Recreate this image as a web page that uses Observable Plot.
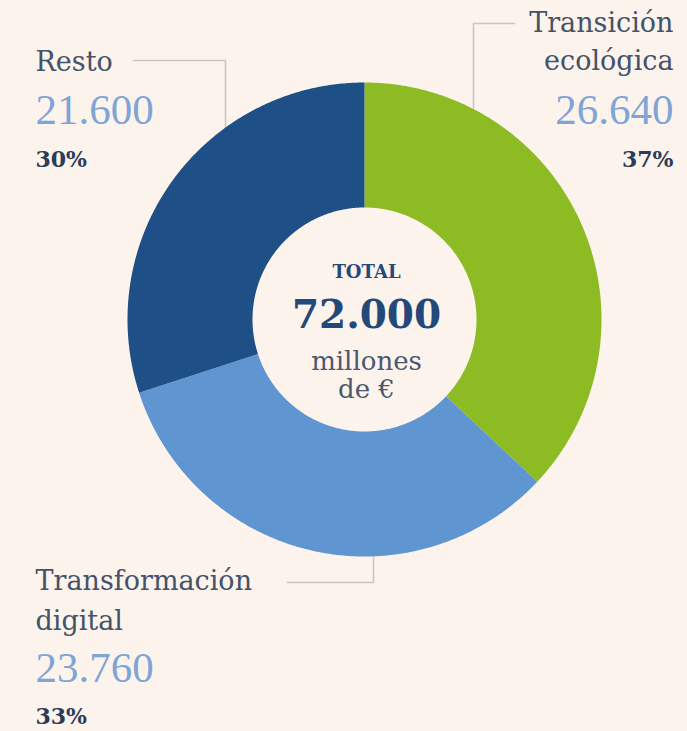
<!DOCTYPE html>
<html>
<head>
<meta charset="utf-8">
<script src="https://cdn.jsdelivr.net/npm/d3@7"></script>
<script src="https://cdn.jsdelivr.net/npm/@observablehq/plot@0.6"></script>
<style>
  html, body { margin: 0; padding: 0; background: #fcf3ec; }
  #chart { width: 687px; height: 731px; }
</style>
</head>
<body>
<div id="chart"></div>
<script>
// ---- data ----
const categories = ["Transición ecológica", "Transformación digital", "Resto"];
const nameLines = [["Transición", "ecológica"], ["Transformación", "digital"], ["Resto"]];
const values = [26640, 23760, 21600];
const percents = [37, 33, 30];
const total = 72000;
const totalLabel = "TOTAL";
const unitLines = ["millones", "de €"];
const colors = ["#8cbb23", "#5f95d1", "#1f4f87"];

// ---- layout (pixels) ----
const W = 687, H = 731;
const cx = 364, cy = 319, R = 237, r0 = 112;
const bg = "#fcf3ec";
const labelLayout = [
  {x: 673, anchor: "end",   nameY: [23, 61],  valueY: 110, pctY: 159, leader: [[514, 23], [473, 23], [473, 109]]},
  {x: 35,  anchor: "start", nameY: [581, 621], valueY: 668, pctY: 716, leader: [[287, 582], [373, 582], [373, 556]]},
  {x: 35,  anchor: "start", nameY: [62],       valueY: 110, pctY: 159, leader: [[133, 60], [225, 60], [225, 128]]}
];

const locale = d3.formatLocale({decimal: ",", thousands: ".", grouping: [3], currency: ["", " €"]});
const fmt = locale.format(",");

// ---- donut geometry from values ----
const pie = d3.pie().sort(null).value(d => d.value);
const slices = pie(categories.map((c, i) => ({category: c, value: values[i]})));
const ring = [];
const step = Math.PI / 360;
for (const s of slices) {
  const a0 = s.startAngle, a1 = s.endAngle;
  const n = Math.max(2, Math.ceil((a1 - a0) / step));
  for (let k = 0; k <= n; k++) {
    const a = a0 + (a1 - a0) * k / n;
    ring.push({category: s.data.category, x: cx + R * Math.sin(a), y: cy - R * Math.cos(a)});
  }
  for (let k = n; k >= 0; k--) {
    const a = a0 + (a1 - a0) * k / n;
    ring.push({category: s.data.category, x: cx + r0 * Math.sin(a), y: cy - r0 * Math.cos(a)});
  }
}

// ---- labels ----
const nameRows = [], valueRows = [], pctRows = [], leaderRows = [];
categories.forEach((c, i) => {
  const L = labelLayout[i];
  nameLines[i].forEach((t, j) => nameRows.push({x: L.x, y: L.nameY[j], text: t, anchor: L.anchor}));
  valueRows.push({x: L.x, y: L.valueY, text: fmt(values[i]), anchor: L.anchor});
  pctRows.push({x: L.x, y: L.pctY, text: percents[i] + "%", anchor: L.anchor});
  L.leader.forEach(([x, y]) => leaderRows.push({x, y, category: c}));
});

const serif = "'DejaVu Serif', serif";
const textMark = (rows, opts) => [
  Plot.text(rows.filter(d => d.anchor === "start"), {x: "x", y: "y", text: "text", textAnchor: "start", ...opts}),
  Plot.text(rows.filter(d => d.anchor === "end"), {x: "x", y: "y", text: "text", textAnchor: "end", ...opts})
];

const plot = Plot.plot({
  width: W, height: H, margin: 0,
  x: {domain: [0, W], axis: null},
  y: {domain: [0, H], reverse: true, axis: null},
  color: {domain: categories, range: colors},
  style: {background: bg, overflow: "visible"},
  marks: [
    Plot.line(leaderRows, {x: "x", y: "y", z: "category", stroke: "#c9c6c3", strokeWidth: 1.6, curve: "linear"}),
    Plot.line(ring, {x: "x", y: "y", z: "category", fill: "category", stroke: null, curve: "linear"}),
    ...textMark(nameRows, {fontFamily: serif, fontSize: 27, fill: "#44526a"}),
    ...textMark(valueRows, {fontFamily: "'Liberation Serif', serif", fontSize: 43, fill: "#7ea5d5"}),
    ...textMark(pctRows, {fontFamily: serif, fontSize: 22, fontWeight: "bold", fill: "#2b3c58"}),
    Plot.text([totalLabel], {x: () => cx + 2, y: () => 272, text: d => d, fontFamily: serif, fontSize: 18, fontWeight: "bold", fill: "#23497a"}),
    Plot.text([total], {x: () => cx + 2, y: () => 315, text: d => fmt(d), fontFamily: serif, fontSize: 39, fontWeight: "bold", fill: "#23497a"}),
    Plot.text(unitLines, {x: () => cx + 2, y: (d, i) => 361 + i * 28, text: d => d, fontFamily: serif, fontSize: 26, fill: "#4a5870"})
  ]
});
document.getElementById("chart").appendChild(plot);
</script>
</body>
</html>
